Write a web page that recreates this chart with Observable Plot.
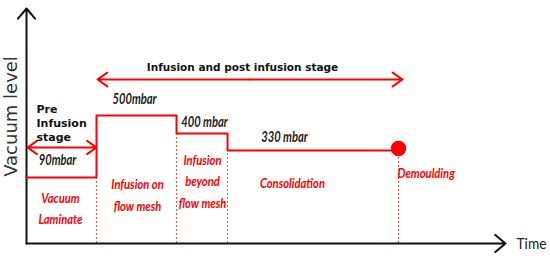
<!DOCTYPE html>
<html>
<head>
<meta charset="utf-8">
<script src="https://cdn.jsdelivr.net/npm/d3@7"></script>
<script src="https://cdn.jsdelivr.net/npm/@observablehq/plot@0.6"></script>
<style>
  body { margin: 0; background: #fff; }
  #chart svg { display: block; }
</style>
</head>
<body>
<div id="chart"></div>
<script>
// Stage boundaries (time, schematic units) and vacuum level per stage
const stageStart = [0, 70, 150, 201];
const stageEnd   = [70, 150, 201, 372];
const stageLevel = [66, 128, 110, 93];
const pressureLabels = ["90mbar", "500mbar", "400 mbar", "330 mbar"];
const pressureLabelX = [31, 108, 178, 258];
const pressureLabelY = [83, 144, 121, 106];

const stageNames = ["Vacuum\nLaminate", "Infusion on\nflow mesh", "Infusion\nbeyond\nflow mesh", "Consolidation"];
const stageNameX = [34, 111, 176, 266];
const stageNameY = [37, 50.5, 64, 62];

const demouldTime = 372;
const demouldLevel = 95;
const demouldLabel = "Demoulding";

const boundaryX = [70, 150, 201, 372];
const boundaryTop = [66, 110, 93, 88];

const phaseLabels = ["Pre\nInfusion\nstage", "Infusion and post infusion stage"];
const phaseX1 = [1, 71];
const phaseX2 = [70, 376];
const phaseArrowY = [96, 164];

const axisTitleY = "Vacuum level";
const axisTitleX = "Time";
const axisEndX = 479;
const axisEndY = 235;

// build step line points
const stepPts = stageStart.map((s, i) => ({x: s, y: stageLevel[i]}));
stepPts.push({x: stageEnd[stageEnd.length - 1], y: stageLevel[stageLevel.length - 1]});

const RED = "#f00";
const narrow = "Lato, 'DejaVu Sans Condensed', sans-serif";

const dbl = phaseX1.map((x1, i) => ({x1, x2: phaseX2[i], xm: (x1 + phaseX2[i]) / 2, y: phaseArrowY[i]}));

const chart = Plot.plot({
  width: 550,
  height: 258,
  margin: 0,
  x: {domain: [0, 524], range: [26, 550], axis: null},
  y: {domain: [0, 243], range: [243, 0], axis: null},
  marks: [
    Plot.ruleX(boundaryX.map((x, i) => ({x, top: boundaryTop[i]})), {
      x: "x", y1: 0, y2: "top", stroke: "#f55", strokeWidth: 1, strokeDasharray: "2,2"
    }),
    Plot.arrow([{x1: 0, y1: 0, x2: axisEndX, y2: 0}], {
      x1: "x1", y1: "y1", x2: "x2", y2: "y2", stroke: "#111", strokeWidth: 2, headLength: 10, headAngle: 80
    }),
    Plot.arrow([{x1: 0, y1: 0, x2: 0, y2: axisEndY}], {
      x1: "x1", y1: "y1", x2: "x2", y2: "y2", stroke: "#111", strokeWidth: 2, headLength: 10, headAngle: 80
    }),
    Plot.line(stepPts, {x: "x", y: "y", curve: "step-after", stroke: RED, strokeWidth: 2}),
    Plot.dot([{x: demouldTime, y: demouldLevel}], {x: "x", y: "y", r: 7, fill: RED, stroke: RED}),
    Plot.arrow(dbl, {x1: "xm", y1: "y", x2: "x1", y2: "y", stroke: RED, strokeWidth: 2, headLength: 9, headAngle: 70}),
    Plot.arrow(dbl, {x1: "xm", y1: "y", x2: "x2", y2: "y", stroke: RED, strokeWidth: 2, headLength: 9, headAngle: 70}),
    Plot.text(pressureLabels, {
      x: (d, i) => pressureLabelX[i], y: (d, i) => pressureLabelY[i], text: d => d,
      fontFamily: narrow, fontStyle: "italic", fontSize: 15, fill: "#222", fontWeight: "bold"
    }),
    Plot.text(stageNames, {
      x: (d, i) => stageNameX[i], y: (d, i) => stageNameY[i], text: d => d,
      fontFamily: narrow, fontStyle: "italic", fontWeight: "bold", fontSize: 14, fill: RED, lineHeight: 1.55
    }),
    Plot.text([demouldLabel], {
      x: demouldTime - 1, y: 70, text: d => d, textAnchor: "start",
      fontFamily: narrow, fontStyle: "italic", fontWeight: "bold", fontSize: 14, fill: RED
    }),
    Plot.text([phaseLabels[0]], {
      x: 10, y: 121, text: d => d, textAnchor: "start", lineHeight: 1.3,
      fontFamily: "'DejaVu Sans', sans-serif", fontWeight: "bold", fontSize: 11, fill: "#111"
    }),
    Plot.text([phaseLabels[1]], {
      x: 216, y: 176, text: d => d,
      fontFamily: "'DejaVu Sans', sans-serif", fontWeight: "bold", fontSize: 10.5, fill: "#111"
    }),
    Plot.text([axisTitleY], {
      x: -15, y: 127, text: d => d, rotate: -90,
      fontFamily: "'DejaVu Sans', sans-serif", fontSize: 18, fill: "#333"
    }),
    Plot.text([axisTitleX], {
      x: 490, y: 0, text: d => d, textAnchor: "start",
      fontFamily: narrow, fontSize: 16, fill: "#222"
    })
  ]
});
document.getElementById("chart").append(chart);
// condense the Calibri-like labels horizontally (Lato is wider than the original face)
const squeeze = {15: 0.745, 14: 0.8, 16: 0.86};
d3.select(chart).selectAll("g[font-family^='Lato']").each(function() {
  const f = squeeze[+this.getAttribute("font-size")] || 0.85;
  d3.select(this).selectAll("text").each(function() {
    const spans = d3.select(this).selectAll("tspan");
    const nodes = spans.empty() ? [this] : spans.nodes();
    nodes.forEach(n => {
      const len = n.getComputedTextLength();
      n.setAttribute("textLength", (len * f).toFixed(1));
      n.setAttribute("lengthAdjust", "spacingAndGlyphs");
    });
  });
});
</script>
</body>
</html>
